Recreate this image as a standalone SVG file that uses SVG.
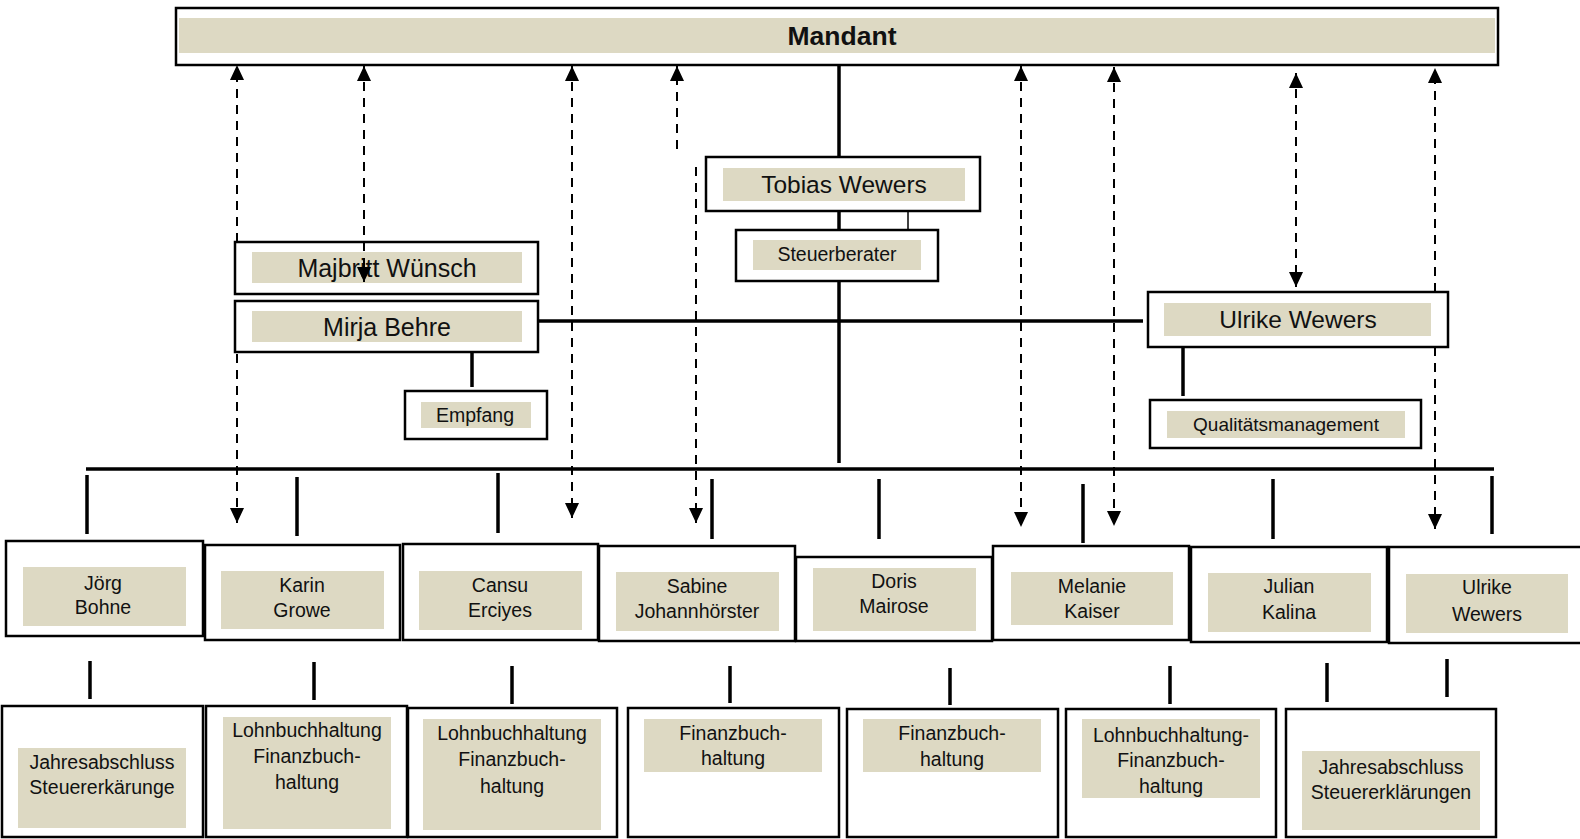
<svg xmlns="http://www.w3.org/2000/svg" width="1580" height="839" viewBox="0 0 1580 839">
<style>
.box{fill:#fff;stroke:#000;stroke-width:2.5}
.band{fill:#DDD9C3}
.t{font-family:"Liberation Sans",Arial,sans-serif;fill:#111;text-anchor:middle}
.s{font-size:19.5px}
.l{font-size:24.5px}
.solid{stroke:#000;stroke-width:3.5;fill:none}
.thin{stroke:#000;stroke-width:1.5;fill:none}
.dash{stroke:#000;stroke-width:2;stroke-dasharray:9 7;fill:none}
</style>
<defs>
<marker id="ah" viewBox="0 0 15 14" refX="15" refY="7" markerWidth="15" markerHeight="14" markerUnits="userSpaceOnUse" orient="auto-start-reverse">
<path d="M0,0 L15,7 L0,14 z" fill="#000"/>
</marker>
</defs>
<rect width="1580" height="839" fill="#fff"/>

<g id="nodes">
<g id="mandant">
<rect class="box" x="176" y="8" width="1322" height="57" stroke-width="2"/>
<rect class="band" x="179" y="18" width="1316" height="35"/>
<text class="t" x="842" y="45" font-size="26.5" font-weight="bold">Mandant</text>
</g>
<g id="tobias">
<rect class="box" x="706" y="157" width="274" height="54"/>
<rect class="band" x="723" y="168" width="242" height="33"/>
<text class="t l" x="844" y="193">Tobias Wewers</text>
</g>
<g id="steuerberater">
<rect class="box" x="736" y="230" width="202" height="51"/>
<rect class="band" x="753" y="240" width="168" height="30"/>
<text class="t s" x="837" y="261">Steuerberater</text>
</g>
<g id="majbritt">
<rect class="box" x="235" y="242" width="303" height="52"/>
<rect class="band" x="252" y="252" width="270" height="31"/>
<text class="t" x="387" y="277" font-size="25">Majbritt Wünsch</text>
</g>
<g id="mirja">
<rect class="box" x="235" y="301" width="303" height="51"/>
<rect class="band" x="252" y="311" width="270" height="31"/>
<text class="t" x="387" y="336" font-size="25">Mirja Behre</text>
</g>
<g id="empfang">
<rect class="box" x="405" y="391" width="142" height="48"/>
<rect class="band" x="421" y="402" width="110" height="26"/>
<text class="t s" x="475" y="422">Empfang</text>
</g>
<g id="ulrike-top">
<rect class="box" x="1148" y="292" width="300" height="55"/>
<rect class="band" x="1164" y="303" width="267" height="33"/>
<text class="t l" x="1298" y="328">Ulrike Wewers</text>
</g>
<g id="qm">
<rect class="box" x="1150" y="400" width="271" height="48"/>
<rect class="band" x="1167" y="411" width="238" height="27"/>
<text class="t" x="1286" y="431" font-size="19">Qualitätsmanagement</text>
</g>

<g id="joerg">
<rect class="box" x="6" y="541" width="197" height="95"/>
<rect class="band" x="23" y="567" width="163" height="59"/>
<text class="t s" x="103" y="590">Jörg</text>
<text class="t s" x="103" y="614">Bohne</text>
</g>
<g id="karin">
<rect class="box" x="205" y="545" width="195" height="95"/>
<rect class="band" x="221" y="571" width="163" height="58"/>
<text class="t s" x="302" y="592">Karin</text>
<text class="t s" x="302" y="617">Growe</text>
</g>
<g id="cansu">
<rect class="box" x="403" y="544" width="195" height="96"/>
<rect class="band" x="419" y="571" width="163" height="59"/>
<text class="t s" x="500" y="592">Cansu</text>
<text class="t s" x="500" y="617">Erciyes</text>
</g>
<g id="sabine">
<rect class="box" x="599" y="546" width="196" height="95"/>
<rect class="band" x="616" y="572" width="163" height="59"/>
<text class="t s" x="697" y="593">Sabine</text>
<text class="t s" x="697" y="618">Johannhörster</text>
</g>
<g id="doris">
<rect class="box" x="796" y="557" width="196" height="84"/>
<rect class="band" x="813" y="568" width="163" height="63"/>
<text class="t s" x="894" y="588">Doris</text>
<text class="t s" x="894" y="613">Mairose</text>
</g>
<g id="melanie">
<rect class="box" x="993" y="546" width="196" height="94"/>
<rect class="band" x="1011" y="572" width="162" height="53"/>
<text class="t s" x="1092" y="593">Melanie</text>
<text class="t s" x="1092" y="618">Kaiser</text>
</g>
<g id="julian">
<rect class="box" x="1191" y="547" width="196" height="95"/>
<rect class="band" x="1208" y="573" width="163" height="59"/>
<text class="t s" x="1289" y="593">Julian</text>
<text class="t s" x="1289" y="619">Kalina</text>
</g>
<g id="ulrike">
<rect class="box" x="1389" y="547" width="195" height="96"/>
<rect class="band" x="1406" y="574" width="162" height="59"/>
<text class="t s" x="1487" y="594">Ulrike</text>
<text class="t s" x="1487" y="621">Wewers</text>
</g>

<g id="task1">
<rect class="box" x="2" y="706" width="201" height="131"/>
<rect class="band" x="18" y="748" width="168" height="80"/>
<text class="t s" x="102" y="769">Jahresabschluss</text>
<text class="t s" x="102" y="794">Steuererkärunge</text>
</g>
<g id="task2">
<rect class="box" x="206" y="706" width="201" height="131"/>
<rect class="band" x="223" y="717" width="168" height="112"/>
<text class="t s" x="307" y="737">Lohnbuchhaltung</text>
<text class="t s" x="307" y="763">Finanzbuch-</text>
<text class="t s" x="307" y="789">haltung</text>
</g>
<g id="task3">
<rect class="box" x="408" y="708" width="209" height="129"/>
<rect class="band" x="423" y="719" width="178" height="111"/>
<text class="t s" x="512" y="740">Lohnbuchhaltung</text>
<text class="t s" x="512" y="766">Finanzbuch-</text>
<text class="t s" x="512" y="793">haltung</text>
</g>
<g id="task4">
<rect class="box" x="628" y="708" width="211" height="129"/>
<rect class="band" x="644" y="719" width="178" height="53"/>
<text class="t s" x="733" y="740">Finanzbuch-</text>
<text class="t s" x="733" y="765">haltung</text>
</g>
<g id="task5">
<rect class="box" x="847" y="709" width="211" height="128"/>
<rect class="band" x="863" y="719" width="178" height="53"/>
<text class="t s" x="952" y="740">Finanzbuch-</text>
<text class="t s" x="952" y="766">haltung</text>
</g>
<g id="task6">
<rect class="box" x="1066" y="709" width="210" height="128"/>
<rect class="band" x="1082" y="719" width="178" height="79"/>
<text class="t s" x="1171" y="742">Lohnbuchhaltung-</text>
<text class="t s" x="1171" y="767">Finanzbuch-</text>
<text class="t s" x="1171" y="793">haltung</text>
</g>
<g id="task7">
<rect class="box" x="1286" y="709" width="210" height="128"/>
<rect class="band" x="1302" y="751" width="178" height="79"/>
<text class="t s" x="1391" y="774">Jahresabschluss</text>
<text class="t s" x="1391" y="799">Steuererklärungen</text>
</g>
</g>

<g id="connectors">
<line class="solid" x1="839" y1="65" x2="839" y2="157"/>
<line class="solid" x1="839" y1="211" x2="839" y2="230"/>
<line class="solid" x1="839" y1="281" x2="839" y2="463"/>
<line class="thin" x1="908" y1="211" x2="908" y2="230"/>
<line class="solid" x1="538" y1="321" x2="1143" y2="321"/>
<line class="solid" x1="472" y1="352" x2="472" y2="387"/>
<line class="solid" x1="1183" y1="347" x2="1183" y2="396"/>
<line class="solid" x1="86" y1="469" x2="1494" y2="469"/>
<line class="solid" x1="87" y1="475" x2="87" y2="534"/>
<line class="solid" x1="297" y1="477" x2="297" y2="536"/>
<line class="solid" x1="498" y1="473" x2="498" y2="533"/>
<line class="solid" x1="712" y1="479" x2="712" y2="539"/>
<line class="solid" x1="879" y1="479" x2="879" y2="539"/>
<line class="solid" x1="1083" y1="484" x2="1083" y2="543"/>
<line class="solid" x1="1273" y1="479" x2="1273" y2="539"/>
<line class="solid" x1="1492" y1="476" x2="1492" y2="534"/>
<line class="solid" x1="90" y1="661" x2="90" y2="699"/>
<line class="solid" x1="314" y1="662" x2="314" y2="700"/>
<line class="solid" x1="512" y1="666" x2="512" y2="704"/>
<line class="solid" x1="730" y1="666" x2="730" y2="703"/>
<line class="solid" x1="950" y1="668" x2="950" y2="705"/>
<line class="solid" x1="1170" y1="666" x2="1170" y2="704"/>
<line class="solid" x1="1327" y1="663" x2="1327" y2="702"/>
<line class="solid" x1="1447" y1="659" x2="1447" y2="697"/>

<line class="dash" x1="237" y1="242" x2="237" y2="65" marker-end="url(#ah)"/>
<line class="dash" x1="237" y1="354" x2="237" y2="523" marker-end="url(#ah)"/>
<line class="dash" x1="364" y1="66" x2="364" y2="282" marker-start="url(#ah)" marker-end="url(#ah)"/>
<line class="dash" x1="572" y1="66" x2="572" y2="518" marker-start="url(#ah)" marker-end="url(#ah)"/>
<line class="dash" x1="677" y1="149" x2="677" y2="66" marker-end="url(#ah)"/>
<line class="dash" x1="696" y1="167" x2="696" y2="523" marker-end="url(#ah)"/>
<line class="dash" x1="1021" y1="66" x2="1021" y2="527" marker-start="url(#ah)" marker-end="url(#ah)"/>
<line class="dash" x1="1114" y1="67" x2="1114" y2="526" marker-start="url(#ah)" marker-end="url(#ah)"/>
<line class="dash" x1="1296" y1="73" x2="1296" y2="287" marker-start="url(#ah)" marker-end="url(#ah)"/>
<line class="dash" x1="1435" y1="292" x2="1435" y2="68" marker-end="url(#ah)"/>
<line class="dash" x1="1435" y1="347" x2="1435" y2="529" marker-end="url(#ah)"/>
</g>
</svg>
